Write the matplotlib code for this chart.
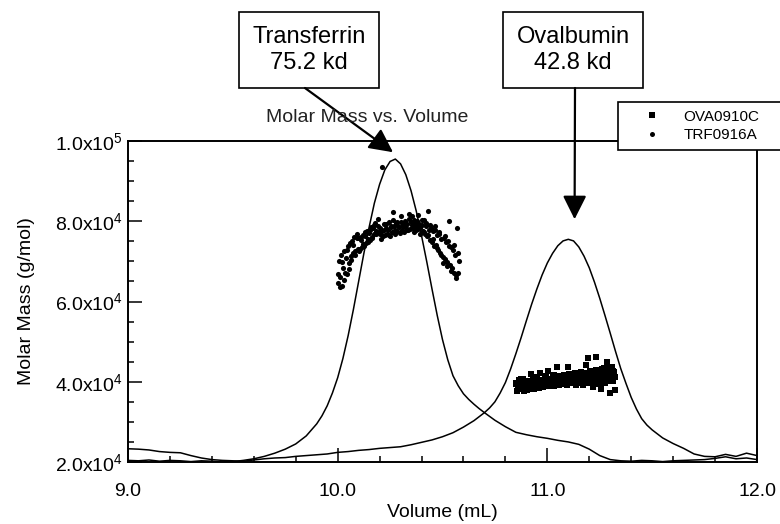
import numpy as np
import matplotlib
matplotlib.use("Agg")
import matplotlib.pyplot as plt
from matplotlib.lines import Line2D
from matplotlib.patches import Rectangle
from matplotlib.ticker import MultipleLocator

plt.rcParams['font.family'] = ['Liberation Sans', 'DejaVu Sans']
plt.rcParams['mathtext.fontset'] = 'custom'
plt.rcParams['mathtext.rm'] = 'Liberation Sans'
plt.rcParams['mathtext.default'] = 'regular'

# detector traces (volume in mL, signal plotted on the molar mass scale, x1000)
trf_trace_vol = [9.00, 9.05, 9.10, 9.15, 9.20, 9.25, 9.30, 9.35, 9.40, 9.45,
                 9.50, 9.55, 9.60, 9.65, 9.70, 9.75, 9.80, 9.85,
                 9.900, 9.925, 9.950, 9.975, 10.000, 10.025, 10.050, 10.075,
                 10.100, 10.125, 10.150, 10.175, 10.200, 10.225, 10.250, 10.275,
                 10.300, 10.325, 10.350, 10.375, 10.400, 10.425, 10.450, 10.475,
                 10.500, 10.525, 10.550, 10.575, 10.600, 10.625, 10.650, 10.675,
                 10.700, 10.75, 10.80, 10.85, 10.90, 10.95, 11.00, 11.05, 11.10,
                 11.15, 11.20, 11.25, 11.30, 11.35, 11.40, 11.45, 11.50, 11.55,
                 11.60, 11.65, 11.70, 11.75, 11.80, 11.85, 11.90, 11.95, 12.00]
trf_trace = [20.4, 20.3, 20.5, 20.2, 20.4, 20.3, 20.1, 20.3, 20.2, 20.0,
             20.1, 20.4, 20.8, 21.4, 22.2, 23.2, 24.5, 26.5,
             29.5, 31.5, 34.0, 37.2, 41.0, 45.8, 51.5, 58.0,
             65.0, 72.0, 78.5, 84.5, 89.2, 92.8, 94.9, 95.5,
             94.3, 91.6, 87.6, 82.5, 76.4, 69.9, 63.1, 56.5,
             50.5, 45.5, 41.5, 39.0, 37.0, 35.6, 34.4, 33.3,
             32.3, 30.4, 28.8, 27.4, 26.8, 26.3, 25.9, 25.4, 25.0,
             24.4, 23.2, 21.6, 20.6, 20.3, 20.2, 20.4, 20.3, 20.1,
             20.3, 20.4, 20.5, 20.6, 20.9, 21.3, 20.8, 21.0, 20.6]

ova_trace_vol = [9.00, 9.05, 9.10, 9.15, 9.20, 9.25, 9.30, 9.35, 9.40, 9.45,
                 9.50, 9.55, 9.60, 9.65, 9.70, 9.75, 9.80, 9.85, 9.90, 9.95,
                 10.00, 10.05, 10.10, 10.15, 10.20, 10.25, 10.30, 10.35, 10.40,
                 10.45, 10.50, 10.55, 10.60, 10.65,
                 10.700, 10.725, 10.750, 10.775, 10.800, 10.825, 10.850, 10.875,
                 10.900, 10.925, 10.950, 10.975, 11.000, 11.025, 11.050, 11.075,
                 11.100, 11.125, 11.150, 11.175, 11.200, 11.225, 11.250, 11.275,
                 11.300, 11.325, 11.350, 11.375, 11.400, 11.425, 11.450, 11.475,
                 11.500, 11.525, 11.550, 11.60, 11.65, 11.70, 11.75, 11.80,
                 11.85, 11.90, 11.95, 12.00]
ova_trace = [23.3, 23.2, 23.0, 22.6, 22.4, 22.3, 21.6, 21.0, 20.6, 20.4,
             20.3, 20.2, 20.5, 20.8, 21.0, 21.1, 21.4, 21.6, 21.8, 22.0,
             22.4, 22.6, 22.9, 23.1, 23.4, 23.6, 23.8, 24.3, 24.9,
             25.5, 26.3, 27.3, 28.7, 30.3,
             32.3, 33.5, 35.0, 37.2, 39.8, 43.2, 47.0, 51.0,
             55.2, 59.3, 63.1, 66.6, 69.6, 72.0, 73.9, 75.1,
             75.5, 75.1, 73.6, 71.3, 68.4, 64.8, 60.8, 56.5,
             52.1, 47.6, 43.3, 39.6, 36.1, 33.2, 30.8, 29.2,
             28.0, 27.0, 26.0, 24.6, 23.4, 22.0, 21.4, 21.3,
             21.9, 21.4, 22.2, 21.6]

# molar mass points, TRF0916A (volume mL, molar mass x1000 g/mol)
trf_vol = [10.000, 10.005, 10.010, 10.015, 10.020, 10.025, 10.030, 10.035, 10.040, 10.045,
           10.050, 10.055, 10.060, 10.065, 10.070, 10.075, 10.080, 10.085, 10.090, 10.095,
           10.100, 10.105, 10.110, 10.115, 10.120, 10.125, 10.130, 10.135, 10.140, 10.145,
           10.150, 10.155, 10.160, 10.165, 10.170, 10.175, 10.180, 10.185, 10.190, 10.195,
           10.200, 10.205, 10.210, 10.215, 10.220, 10.225, 10.230, 10.235, 10.240, 10.245,
           10.250, 10.255, 10.260, 10.265, 10.270, 10.275, 10.280, 10.285, 10.290, 10.295,
           10.300, 10.305, 10.310, 10.315, 10.320, 10.325, 10.330, 10.335, 10.340, 10.345,
           10.350, 10.355, 10.360, 10.365, 10.370, 10.375, 10.380, 10.385, 10.390, 10.395,
           10.400, 10.405, 10.410, 10.415, 10.420, 10.425, 10.430, 10.435, 10.440, 10.445,
           10.450, 10.455, 10.460, 10.465, 10.470, 10.475, 10.480, 10.485, 10.490, 10.495,
           10.500, 10.505, 10.510, 10.515, 10.520, 10.525, 10.530, 10.535, 10.540, 10.545,
           10.550, 10.555, 10.560, 10.565, 10.570, 10.575, 10.580,
           10.0025, 10.0125, 10.0225, 10.0325, 10.0425, 10.0525, 10.0625, 10.0725, 10.0825, 10.0925,
           10.1025, 10.1125, 10.1225, 10.1325, 10.1425, 10.1525, 10.1625, 10.1725, 10.1825, 10.1925,
           10.2025, 10.2125, 10.2225, 10.2325, 10.2425, 10.2525, 10.2625, 10.2725, 10.2825, 10.2925,
           10.3025, 10.3125, 10.3225, 10.3325, 10.3425, 10.3525, 10.3625, 10.3725, 10.3825, 10.3925,
           10.4025, 10.4125, 10.4225, 10.4325, 10.4425, 10.4525, 10.4625, 10.4725, 10.4825, 10.4925,
           10.5025, 10.5125, 10.5225, 10.5325, 10.5425, 10.5525, 10.5625, 10.5725]
trf_mass = [64.5, 70.2, 66.0, 71.5, 63.8, 68.4, 72.6, 67.1, 70.9, 66.8,
            73.9, 69.7, 74.5, 70.3, 75.2, 72.1, 76.0, 71.6, 75.8, 73.2,
            75.9, 73.1, 75.4, 73.5, 76.6, 73.8, 76.4, 74.7, 77.5, 74.9,
            77.1, 75.4, 78.6, 76.1, 78.3, 76.7, 79.5, 76.9, 78.8, 77.4,
            78.4, 75.6, 77.5, 76.2, 79.2, 76.5, 78.3, 76.9, 77.8, 79.9,
            76.4, 78.6, 77.2, 82.3, 78.8, 76.8, 79.5, 77.6, 78.9, 77.1,
            79.7, 77.9, 79.1, 77.4, 80.0, 78.2, 79.4, 77.7, 80.6, 78.1,
            79.8, 81.4, 78.3, 77.2, 79.6, 77.8, 80.1, 78.0, 79.3, 76.9,
            79.0, 77.6, 80.4, 76.7, 78.9, 76.3, 82.6, 77.8, 75.4, 78.2,
            74.9, 77.6, 73.8, 77.9, 74.2, 76.6, 72.9, 76.8, 72.1, 75.7,
            71.2, 75.9, 70.5, 74.8, 69.9, 75.2, 80.0, 69.1, 73.5, 68.4,
            72.9, 67.2, 71.6, 66.5, 78.4, 67.1, 70.0,
            66.9, 63.5, 69.8, 65.4, 72.8, 68.1, 71.3, 74.0, 72.7, 76.9,
            72.6, 76.1, 74.3, 77.2, 75.5, 77.9, 75.8, 79.1, 77.6, 80.5,
            76.8, 93.6, 77.9, 79.4, 76.6, 78.9, 80.3, 77.7, 79.9, 78.5,
            81.2, 78.7, 79.6, 77.9, 81.9, 79.1, 80.4, 78.9, 81.6, 78.2,
            80.2, 77.3, 79.5, 76.6, 79.1, 75.7, 78.8, 73.4, 77.2, 71.5,
            69.6, 76.3, 68.8, 73.8, 67.6, 74.1, 65.9, 72.2]

# molar mass points, OVA0910C
ova_vol = [10.850, 10.855, 10.860, 10.865, 10.870, 10.875, 10.880, 10.885, 10.890, 10.895,
           10.900, 10.905, 10.910, 10.915, 10.920, 10.925, 10.930, 10.935, 10.940, 10.945,
           10.950, 10.955, 10.960, 10.965, 10.970, 10.975, 10.980, 10.985, 10.990, 10.995,
           11.000, 11.005, 11.010, 11.015, 11.020, 11.025, 11.030, 11.035, 11.040, 11.045,
           11.050, 11.055, 11.060, 11.065, 11.070, 11.075, 11.080, 11.085, 11.090, 11.095,
           11.100, 11.105, 11.110, 11.115, 11.120, 11.125, 11.130, 11.135, 11.140, 11.145,
           11.150, 11.155, 11.160, 11.165, 11.170, 11.175, 11.180, 11.185, 11.190, 11.195,
           11.200, 11.205, 11.210, 11.215, 11.220, 11.225, 11.230, 11.235, 11.240, 11.245,
           11.250, 11.255, 11.260, 11.265, 11.270, 11.275, 11.280, 11.285, 11.290, 11.295,
           11.300, 11.305, 11.310, 11.315, 11.320, 11.325,
           10.8525, 10.8625, 10.8725, 10.8825, 10.8925, 10.9025, 10.9125, 10.9225, 10.9325, 10.9425,
           10.9525, 10.9625, 10.9725, 10.9825, 10.9925, 11.0025, 11.0125, 11.0225, 11.0325, 11.0425,
           11.0525, 11.0625, 11.0725, 11.0825, 11.0925, 11.1025, 11.1125, 11.1225, 11.1325, 11.1425,
           11.1525, 11.1625, 11.1725, 11.1825, 11.1925, 11.2025, 11.2125, 11.2225, 11.2325, 11.2425,
           11.2525, 11.2625, 11.2725, 11.2825, 11.2925, 11.3025, 11.3125, 11.3225]
ova_mass = [39.8, 37.6, 39.2, 40.5, 38.1, 39.6, 38.4, 40.8, 37.8, 40.1,
            38.7, 40.3, 38.2, 39.8, 41.9, 39.0, 40.6, 38.2, 40.0, 38.8,
            40.9, 38.5, 40.2, 42.2, 39.1, 40.5, 38.7, 39.9, 41.1, 38.9,
            40.2, 42.7, 39.2, 40.8, 39.5, 41.3, 39.0, 40.6, 39.8, 43.8,
            40.9, 39.2, 41.5, 39.7, 41.0, 39.4, 41.7, 40.1, 41.2, 39.1,
            43.6, 40.3, 41.8, 39.6, 41.1, 39.9, 42.1, 39.2, 41.2, 40.2,
            41.9, 40.0, 42.4, 40.5, 39.1, 41.7, 40.3, 42.3, 39.8, 45.8,
            41.5, 39.9, 42.7, 40.6, 38.8, 42.0, 46.1, 40.4, 42.6, 39.5,
            41.9, 38.1, 43.0, 40.8, 43.5, 39.7, 42.2, 44.9, 41.0, 43.1,
            37.2, 41.6, 43.8, 40.3, 42.5, 37.9,
            39.4, 38.3, 40.7, 38.9, 39.5, 38.0, 40.3, 39.3, 38.6, 41.2,
            39.7, 38.4, 40.4, 40.0, 41.4, 38.9, 40.7, 39.6, 41.8, 40.2,
            41.0, 39.5, 41.3, 40.6, 39.2, 42.0, 40.8, 40.1, 42.3, 40.9,
            39.7, 42.2, 41.2, 44.2, 40.5, 42.8, 41.4, 40.2, 42.9, 41.6,
            40.9, 43.2, 42.1, 40.1, 43.4, 41.8, 42.7, 41.2]

x_ticks = [9.0, 10.0, 11.0, 12.0]
x_labels = ['9.0', '10.0', '11.0', '12.0']
y_ticks = [2e4, 4e4, 6e4, 8e4, 1e5]
y_labels = ['2.0x10$^4$', '4.0x10$^4$', '6.0x10$^4$', '8.0x10$^4$', '1.0x10$^5$']

W, H = 780, 524
fig = plt.figure(figsize=(7.8, 5.24), dpi=100)
ax = fig.add_axes([128 / W, 1 - 462 / H, 629 / W, 321 / H])

ax.plot(trf_trace_vol, np.array(trf_trace) * 1e3, color='black', lw=1.1)
ax.plot(ova_trace_vol, np.array(ova_trace) * 1e3, color='black', lw=1.1)
ax.plot(trf_vol, np.array(trf_mass) * 1e3, 'o', ms=3.7, color='black', mew=0)
ax.plot(ova_vol, np.array(ova_mass) * 1e3, 's', ms=3.8, color='black', mew=0)

ax.set_xlim(9, 12)
ax.set_ylim(2e4, 1e5)
ax.set_xticks(x_ticks)
ax.set_xticklabels(x_labels)
ax.set_yticks(y_ticks)
ax.set_yticklabels(y_labels)
ax.xaxis.set_minor_locator(MultipleLocator(0.2))
ax.yaxis.set_minor_locator(MultipleLocator(5000))
ax.tick_params(which='both', direction='in', top=False, right=False, width=1.1)
ax.tick_params(which='major', length=10, labelsize=14)
ax.tick_params(axis='x', which='major', pad=15)
ax.tick_params(axis='y', which='major', pad=4)
ax.tick_params(which='minor', length=4.5)
for sp in ax.spines.values():
    sp.set_linewidth(1.4)

ax.set_xlabel('Volume (mL)', fontsize=14)
ax.xaxis.set_label_coords(0.5, -0.13)
ax.set_ylabel('Molar Mass (g/mol)', fontsize=14, labelpad=14)

fig.text(367 / W, 1 - 117 / H, 'Molar Mass vs. Volume', fontsize=14,
         ha='center', va='center', color='#222222')

# legend box sits on the top right corner and runs off the figure edge
handles = [Line2D([], [], ls='none', marker='s', ms=4, color='black', mew=0),
           Line2D([], [], ls='none', marker='o', ms=3.6, color='black', mew=0)]
leg = ax.legend(handles, ['OVA0910C', 'TRF0916A'], loc='upper left',
                bbox_to_anchor=(618 / W, 1 - 150 / H, 200 / W, 48 / H),
                bbox_transform=fig.transFigure, mode='expand', borderaxespad=0,
                fontsize=11, handlelength=3.4, handletextpad=0.4,
                labelspacing=0.3, borderpad=0.5, fancybox=False, framealpha=1)
leg.get_frame().set_edgecolor('black')
leg.get_frame().set_linewidth(1.2)
leg.set_zorder(10)

# annotation boxes with arrows
boxes = [('Transferrin\n75.2 kd', 239, 379, 305, (10.264, 97.2e3)),
         ('Ovalbumin\n42.8 kd', 503, 643, 575, (11.13, 80.5e3))]
for txt, x0, x1, xa, tip in boxes:
    fig.add_artist(Rectangle((x0 / W, 1 - 88 / H), (x1 - x0) / W, 76 / H,
                             transform=fig.transFigure, fill=False,
                             edgecolor='black', lw=1.2))
    fig.text((x0 + x1) / 2 / W, 1 - 50 / H, txt, fontsize=17, ha='center',
             va='center', linespacing=1.25)
    ax.annotate('', xy=tip, xycoords='data', xytext=(xa / W, 1 - 88 / H),
                textcoords='figure fraction', annotation_clip=False,
                arrowprops=dict(arrowstyle='-|>', color='black', lw=1.6,
                                mutation_scale=36, shrinkA=0, shrinkB=0))

fig.savefig('out.png', dpi=100)
